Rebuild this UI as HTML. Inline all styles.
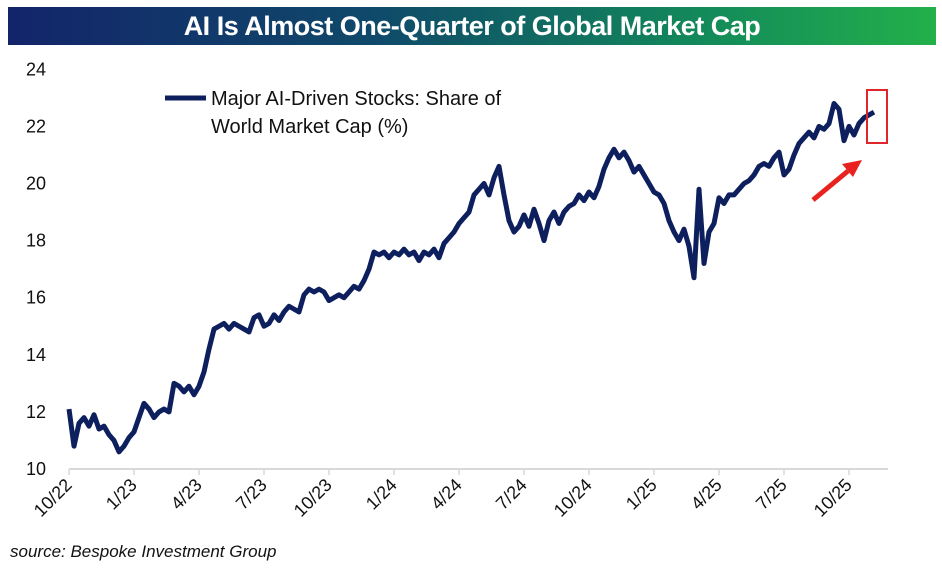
<!DOCTYPE html>
<html><head><meta charset="utf-8">
<style>
body{margin:0;background:#fff;width:942px;height:571px;overflow:hidden;font-family:"Liberation Sans",sans-serif;}
#title{position:absolute;left:8px;top:7px;width:928px;height:38px;background:linear-gradient(90deg,#13246a 0%,#0f4a6a 40%,#138a5a 75%,#22b04a 100%);color:#fff;font-weight:bold;font-size:27px;line-height:38px;text-align:center;letter-spacing:-0.5px;}
#src{position:absolute;left:10px;top:542px;font-style:italic;font-size:17px;color:#111;}
svg{position:absolute;left:0;top:0}
</style></head><body>
<div id="title">AI Is Almost One-Quarter of Global Market Cap</div>
<svg id="chart" width="942" height="571"></svg>
<div id="src">source: Bespoke Investment Group</div>
<script>
const values=[12.1,10.8,11.6,11.8,11.5,11.9,11.4,11.5,11.2,11.0,10.6,10.8,11.1,11.3,11.8,12.3,12.1,11.8,12.0,12.1,12.0,13.0,12.9,12.7,12.9,12.6,12.9,13.4,14.2,14.9,15.0,15.1,14.9,15.1,15.0,14.9,14.8,15.3,15.4,15.0,15.1,15.4,15.2,15.5,15.7,15.6,15.5,16.1,16.3,16.2,16.3,16.2,15.9,16.0,16.1,16.0,16.2,16.4,16.3,16.6,17.0,17.6,17.5,17.6,17.4,17.6,17.5,17.7,17.5,17.6,17.3,17.6,17.5,17.7,17.4,17.9,18.1,18.3,18.6,18.8,19.0,19.6,19.8,20.0,19.6,20.2,20.6,19.6,18.7,18.3,18.5,18.9,18.5,19.1,18.6,18.0,18.7,19.0,18.6,19.0,19.2,19.3,19.6,19.4,19.7,19.5,19.9,20.5,20.9,21.2,20.9,21.1,20.8,20.4,20.6,20.3,20.0,19.7,19.6,19.3,18.7,18.3,18.0,18.4,17.8,16.7,19.8,17.2,18.3,18.6,19.5,19.3,19.6,19.6,19.8,20.0,20.1,20.3,20.6,20.7,20.6,20.9,21.1,20.3,20.5,21.0,21.4,21.6,21.8,21.6,22.0,21.9,22.1,22.8,22.6,21.5,22.0,21.7,22.1,22.3,22.4,22.5];
const yTicks=[10,12,14,16,18,20,22,24];
const xTickLabels=["10/22","1/23","4/23","7/23","10/23","1/24","4/24","7/24","10/24","1/25","4/25","7/25","10/25"];
const NS="http://www.w3.org/2000/svg";
const svg=document.getElementById('chart');
const X0=69,WK=5,Q=65;
const xw=i=>X0+i*WK;
const y=v=>469-(v-10)*28.55;
function mk(t,a){const e=document.createElementNS(NS,t);for(const k in a)e.setAttribute(k,a[k]);svg.appendChild(e);return e;}
const ax=mk('line',{x1:X0,x2:888,y1:469,y2:469,stroke:'#d9d9d9','stroke-width':2});


yTicks.forEach(v=>{const t=mk('text',{x:46,y:y(v)+6,'text-anchor':'end','font-size':18,fill:'#111'});t.textContent=v;

});
xTickLabels.forEach((l,i)=>{const x=X0+i*Q;
const tk=mk('line',{x1:x,x2:x,y1:469,y2:475,stroke:'#d9d9d9','stroke-width':1.5});


const t=mk('text',{x:x+4,y:486,'text-anchor':'end','font-size':18,fill:'#111',transform:`rotate(-45 ${x+4} 486)`});t.textContent=l;

});
const p=mk('path',{d:values.map((v,i)=>(i?'L':'M')+xw(i)+','+y(v)).join(''),fill:'none',stroke:'#0e1f5e','stroke-width':5,'stroke-linejoin':'round'});


const ll=mk('line',{x1:165,x2:206,y1:98,y2:98,stroke:'#0e1f5e','stroke-width':5});


[["Major AI-Driven Stocks: Share of",105],["World Market Cap (%)",133]].forEach(([s,yy])=>{const t=mk('text',{x:211,y:yy,'font-size':20,fill:'#111'});t.textContent=s;

});
const rb=mk('rect',{x:867,y:90,width:20,height:53,fill:'none',stroke:'#e0262a','stroke-width':2});


const ar=mk('line',{x1:813,y1:200,x2:848,y2:171,stroke:'#e8231f','stroke-width':5});


const ah=mk('polygon',{points:'862,160 842,164 853,177',fill:'#e8231f'});


</script>
</body></html>
